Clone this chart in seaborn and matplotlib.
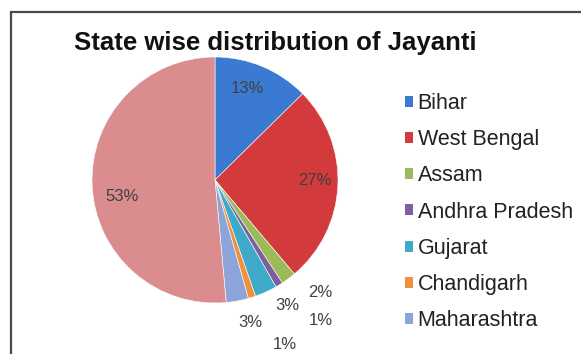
import numpy as np
import matplotlib
matplotlib.use("Agg")
import matplotlib.pyplot as plt
from matplotlib.patches import Patch, Rectangle
import seaborn as sns

# Share of Jayanti by state (percent)
states = ["Bihar", "West Bengal", "Assam", "Andhra Pradesh", "Gujarat",
          "Chandigarh", "Maharashtra", "Others"]
shares = [13, 27, 2, 1, 3, 1, 3, 53]
legend_states = states[:7]

colors = ["#3A7AD2", "#D23A3C", "#9BBB59", "#7D5E9E", "#3FA9C9",
          "#F1913E", "#8CA4D8", "#DB8C8F"]
# placement of each percentage label: radius (fraction of pie radius)
# and a small angular nudge in degrees
label_radius = [0.79, 0.81, 1.25, 1.43, 1.18, 1.45, 1.19, 0.77]
label_nudge = [3.0, 2.6, 6.3, 5.5, 5.5, 5.5, 3.5, 7.4]

sns.set_theme(style="white")
plt.rcParams["font.family"] = ["Liberation Sans", "DejaVu Sans"]

W, H = 581, 354
fig = plt.figure(figsize=(W / 100, H / 100), dpi=100)
fig.patch.set_facecolor("white")

# chart frame
fig.add_artist(Rectangle((11 / W, -0.05), 1.1, (H - 12) / H + 0.05,
                         transform=fig.transFigure, fill=False,
                         edgecolor="#4a4a4a", linewidth=1.6))

fig.text(275 / W, 1 - 50 / H, "State wise distribution of Jayanti",
         ha="center", va="baseline", fontsize=18.5, fontweight="bold",
         color="#111111")

cx, cy, r = 215, 180, 123
ax = fig.add_axes([(cx - r) / W, (H - cy - r) / H, 2 * r / W, 2 * r / H])
wedges, _ = ax.pie(shares, colors=colors, startangle=90, counterclock=False,
                   wedgeprops=dict(edgecolor="white", linewidth=0.4))
ax.set_xlim(-1, 1)
ax.set_ylim(-1, 1)
ax.set_aspect("equal")
ax.axis("off")

for w, val, rd, nd in zip(wedges, shares, label_radius, label_nudge):
    mid = np.deg2rad((w.theta1 + w.theta2) / 2 + nd)
    ax.text(rd * np.cos(mid), rd * np.sin(mid), f"{val}%", ha="center",
            va="center", fontsize=12, color="#404040", clip_on=False)

handles = [Patch(facecolor=c, edgecolor="none") for c in colors[:7]]
fig.legend(handles, legend_states, loc="upper left",
           bbox_to_anchor=(394 / W, 1 - 82 / H), frameon=False,
           fontsize=15.5, handlelength=0.4, handleheight=0.4,
           handletextpad=0.2, labelspacing=0.71, borderpad=0,
           labelcolor="#222222")

fig.savefig("out.png", dpi=100, facecolor="white")
